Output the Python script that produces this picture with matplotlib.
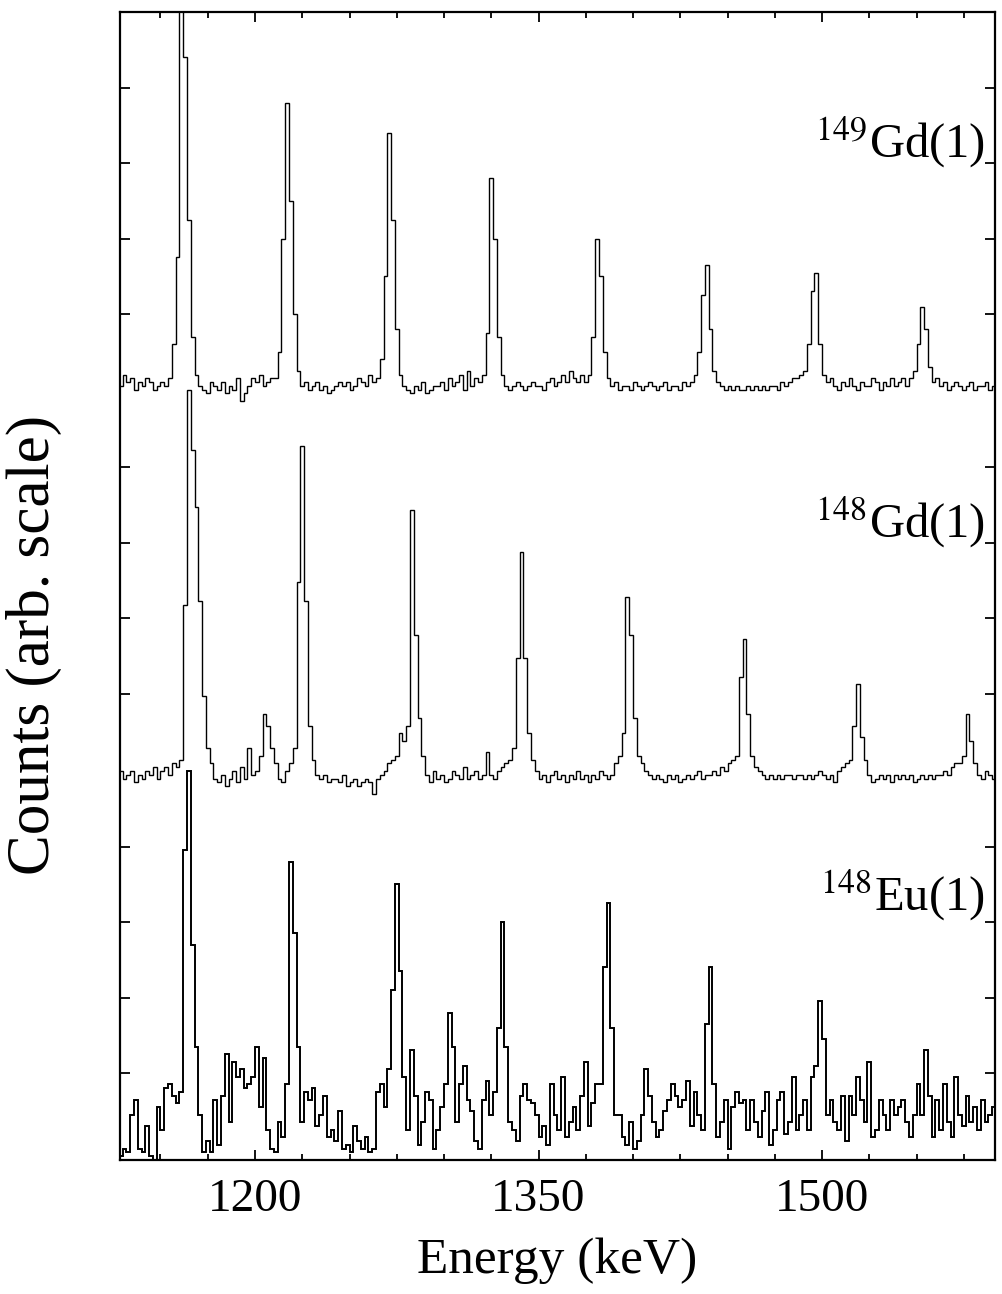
import numpy as np
import matplotlib.pyplot as plt
from matplotlib.ticker import FixedLocator, MultipleLocator

plt.rcParams['font.family'] = ['Liberation Serif', 'DejaVu Serif']
plt.rcParams['mathtext.fontset'] = 'stix'

# spectra binned in 2 keV channels starting at 1128 keV
e_start = 1128
bin_width = 2

gd149 = [
    1, 4, 2, 3, 0, 2, 1, 3, 2, 0, 1, 2, 1,
    3, 12, 35, 105, 88, 45, 14, 4, 1,
    0, -1, 2, 1, 0, 2, -1, 1, 0, 3, -3, -1, 1, 3, 2, 4, 1, 2, 3,
    3, 10, 40, 76, 50, 20, 5, 1,
    2, 0, 1, 2, 0, 1, -1, 0, 1, 2, 1, 2, 0, 1, 3, 2, 1, 4, 2, 3,
    8, 30, 68, 45, 16, 4,
    1, 0, -1, 1, 0, 2, -1, 0, 1, 1, 2, 0, 3, 1, 2, 4, 0, 5, 1, 3, 2,
    4, 15, 56, 40, 14, 4,
    1, 0, 1, 2, 1, 0, 1, 2, 1, 1, 0, 2, 3, 1, 2, 4, 2, 5, 3, 2, 4, 2,
    4, 14, 40, 30, 10, 3,
    1, 2, 0, 1, 1, 0, 2, 1, 0, 1, 2, 1, 0, 1, 2, 0, 1, 1, 0, 2, 1, 2,
    4, 10, 25, 33, 16, 5,
    2, 1, 0, 1, 0, 1, 0, 0, 1, 0, 1, 0, 1, 0, 1, 1, 0, 2, 1, 2, 3, 3, 4,
    5, 12, 26, 31, 12, 4,
    2, 3, 1, 0, 2, 1, 3, 1, 0, 2, 1, 1, 3, 2, 0, 2, 1, 3, 1, 2, 3, 1, 3,
    5, 12, 22, 16, 6, 2,
    3, 1, 2, 0, 1, 2, 1, 0, 1, 2, 0, 1, 1, 2, 0, 1,
]

gd148 = [
    0, -2, -1, 0, -3, -1, -2, 0, -1, 1, -2, 0, 1, -1, 2, 1,
    3, 44, 101, 85, 70, 45, 20, 6, 2,
    -2, -3, -1, -4, -2, 0, -3, 1, -2, 6, -1, 0,
    4, 15, 12, 6, 2,
    -2, -3, 0, 2,
    6, 50, 86, 45, 12, 3,
    -1, -2, -1, -3, -2, -2, -3, -1, -4, -3, -2, -4, -3, -2, -3, -6, -2, -1, 0, 2, 3,
    4, 10, 8, 12, 69, 36, 14, 4,
    -1, -3, 0, -2, -1, -3, -2, 0, -1, -2, 1, -2, -1, 0, -2, -1, 5, -1, -2, 0, 1, 2, 3,
    6, 30, 58, 30, 10, 3,
    0, -2, -1, -3, -1, 0, -2, -1, -3, -1, -2, 0, -2, -1, -3, -1, -2, 0, -1, -2, -1, 2,
    4, 10, 46, 36, 14, 4,
    2, 0, -1, -2, -1, -2, -3, -1, -2, -1, -3, -2, -1, -2, -1, 0, -2, -1, -1, 0, -1, 1, 0, 2, 3,
    4, 25, 35, 15, 4,
    1, 0, -1, -2, -1, -2, -1, -2, -1, -1, -2, -1, -1, -2, -1, -2, -1, 0, -1, -2, -1, -3, 0, 1, 2,
    3, 12, 23, 9, 3,
    -1, -3, -2, -1, -2, -1, -3, -1, -2, -1, -2, -1, -3, -2, -1, -2, -1, -2, -1, -1, 0, -1, 1, 2, 2,
    4, 15, 8, 2,
    -1, -2, 0, -1, -2,
]

eu148 = [
    1, 3, 2, 12, 16, 3, 2, 9, 1, 0, 14, 8, 19, 20, 17,
    15, 18, 82, 103, 57, 30, 12, 2,
    5, 2, 16, 4, 17, 28, 10, 26, 22, 24, 19, 20, 22, 30, 14, 27, 8, 3, 2, 10, 6,
    20, 79, 60, 30, 10,
    18, 16, 19, 9, 12, 17, 6, 8, 5, 13, 3, 4, 2, 9, 5, 3, 6, 2, 3, 18, 20, 14, 24,
    45, 73, 50, 22, 8,
    29, 17, 4, 10, 18, 16, 3, 8, 14,
    20, 39, 30, 10,
    20, 25, 16, 13, 5, 3, 16, 21, 12,
    18, 35, 63, 30, 10,
    8, 5, 17, 20, 16, 15, 12, 6, 9, 4, 20, 12, 8, 22, 6, 10, 14, 8, 17, 26, 9, 15, 20,
    20, 51, 68, 35, 12,
    12, 6, 4, 10, 3, 5, 12, 24, 17, 10, 6, 8, 13, 16, 20, 17, 14, 16, 21, 9, 18, 12,
    8, 36, 51, 20, 6,
    10, 16, 3, 14, 18, 15, 16, 8, 16, 10, 6, 13, 18, 4, 8, 16, 18, 7, 10, 22, 8, 12, 16, 8, 22,
    25, 42, 32, 12,
    16, 10, 8, 17, 5, 17, 12, 22, 16, 10, 26, 6, 8, 16, 12, 8, 16, 12, 14, 16, 10, 6, 12, 20,
    12, 29, 17, 6,
    16, 8, 20, 10, 6, 22, 12, 9, 17, 10, 14, 8, 16, 10, 12, 14,
]

spectra = [gd149, gd148, eu148]
names = [r'$^{149}$Gd(1)', r'$^{148}$Gd(1)', r'$^{148}$Eu(1)']
offsets = [10.2, 5.15, 0.0]       # vertical shift of each spectrum (tick units)
line_widths = [1.0, 1.0, 1.4]
counts_per_div = 20
name_y = [0.8737, 0.5427, 0.2178]

fig = plt.figure(figsize=(10.02, 12.94), dpi=100)
ax = fig.add_axes([0.1198, 0.10355, 0.8732, 0.88717])

for counts, off, lw in zip(spectra, offsets, line_widths):
    counts = np.asarray(counts, dtype=float)
    edges = e_start + bin_width * np.arange(len(counts) + 1)
    ax.stairs(off + counts / counts_per_div, edges, baseline=None,
              color='black', lw=lw)

for name, yy in zip(names, name_y):
    ax.text(0.9886, yy, name, transform=ax.transAxes, ha='right',
            va='baseline', fontsize=35)

ax.set_xlim(1128.6, 1591.5)
ax.set_ylim(0, 15.2)

ax.xaxis.set_major_locator(FixedLocator([1200, 1350, 1500]))
ax.xaxis.set_minor_locator(MultipleLocator(25))
ax.set_yticks([1.15, 2.15, 3.15, 4.15, 6.17, 7.17, 8.17, 9.17,
               11.2, 12.2, 13.2, 14.2])
ax.set_yticklabels([])
ax.tick_params(which='both', direction='in', top=True, right=True, width=1.3)
ax.tick_params(which='major', length=7)
ax.tick_params(which='minor', length=4.5)
ax.tick_params(axis='x', labelsize=34, pad=13)

for sp in ax.spines.values():
    sp.set_linewidth(1.6)

ax.set_xlabel('Energy (keV)', fontsize=37, labelpad=12)
ax.set_ylabel('Counts (arb. scale)', fontsize=44)
ax.yaxis.set_label_coords(-0.066, 0.449)

fig.savefig('out.png', dpi=100)
